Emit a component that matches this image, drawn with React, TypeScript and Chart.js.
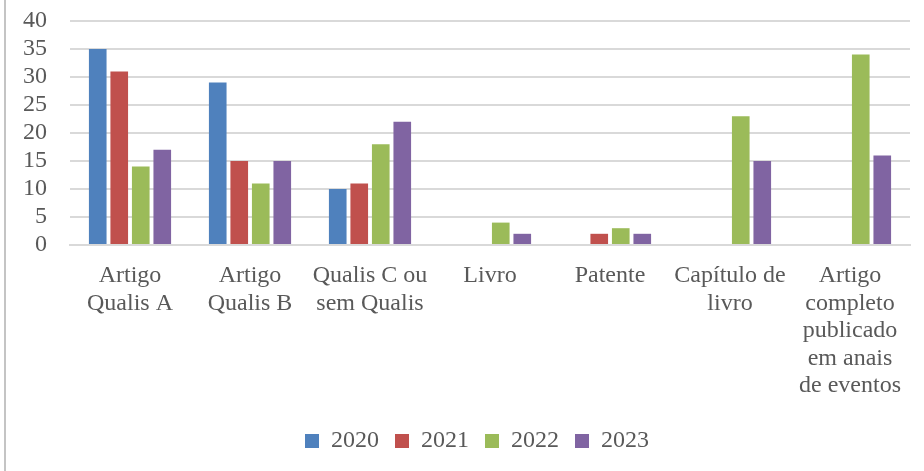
import React, { useEffect, useRef } from "react";
import { Chart, registerables } from "chart.js";

Chart.register(...registerables);

const categories: string[][] = [
  ["Artigo", "Qualis A"],
  ["Artigo", "Qualis B"],
  ["Qualis C ou", "sem Qualis"],
  ["Livro"],
  ["Patente"],
  ["Capítulo de", "livro"],
  ["Artigo", "completo", "publicado", "em anais", "de eventos"],
];

const years = ["2020", "2021", "2022", "2023"];

const values2020 = [35, 29, 10, 0, 0, 0, 0];
const values2021 = [31, 15, 11, 0, 2, 0, 0];
const values2022 = [14, 11, 18, 4, 3, 23, 34];
const values2023 = [17, 15, 22, 2, 2, 15, 16];

const yMin = 0;
const yMax = 40;
const yStep = 5;

const colors = ["#4F81BD", "#C0504D", "#9BBB59", "#8064A2"];

const legendShift = {
  id: "legendShift",
  afterLayout(chart: any) {
    if (chart.legend) {
      chart.legend.left += 44;
      chart.legend.width = chart.legend.right - chart.legend.left;
    }
  },
};

export default function App() {
  const ref = useRef<HTMLCanvasElement | null>(null);

  useEffect(() => {
    if (!ref.current) return;
    const series = [values2020, values2021, values2022, values2023];
    const fam = "'Liberation Serif', serif";
    const font = { family: fam, size: 24, lineHeight: 1.146 };
    const chart = new Chart(ref.current, {
      type: "bar",
      data: {
        labels: categories,
        datasets: series.map((d, i) => ({
          label: years[i],
          data: d,
          backgroundColor: colors[i],
          borderWidth: 0,
          categoryPercentage: 0.717,
          barPercentage: 0.82,
        })),
      },
      plugins: [legendShift],
      options: {
        responsive: false,
        animation: false,
        layout: { padding: { left: 0, right: 14, top: 21, bottom: 8 } },
        plugins: {
          tooltip: { enabled: false },
          legend: {
            position: "bottom",
            labels: {
              font,
              color: "#595959",
              boxWidth: 14,
              boxHeight: 14,
              padding: 16,
            },
          },
        },
        scales: {
          x: {
            grid: { display: false, drawTicks: false },
            border: { display: true, color: "#d9d9d9", width: 2 },
            ticks: { font, color: "#595959", padding: 17, maxRotation: 0, autoSkip: false },
            afterFit: (axis: any) => {
              axis.height = 168;
              axis.paddingLeft = 0;
              axis.paddingRight = 0;
            },
          },
          y: {
            min: yMin,
            max: yMax,
            grid: { color: "#d9d9d9", lineWidth: 2, drawTicks: false },
            border: { display: false },
            ticks: { font, color: "#595959", padding: 23, stepSize: yStep, autoSkip: false },
            afterFit: (axis: any) => {
              axis.width = 70;
              axis.paddingTop = 0;
              axis.paddingBottom = 0;
            },
          },
        },
      },
    });
    return () => chart.destroy();
  }, []);

  return (
    <div style={{ position: "absolute", left: 0, top: 0, width: 924, height: 471, background: "#fff" }}>
      <div style={{ position: "absolute", left: 4, top: 0, width: 2, height: 471, background: "#c4c4c4" }} />
      <canvas ref={ref} width={924} height={471} style={{ position: "absolute", left: 0, top: 0 }} />
    </div>
  );
}
